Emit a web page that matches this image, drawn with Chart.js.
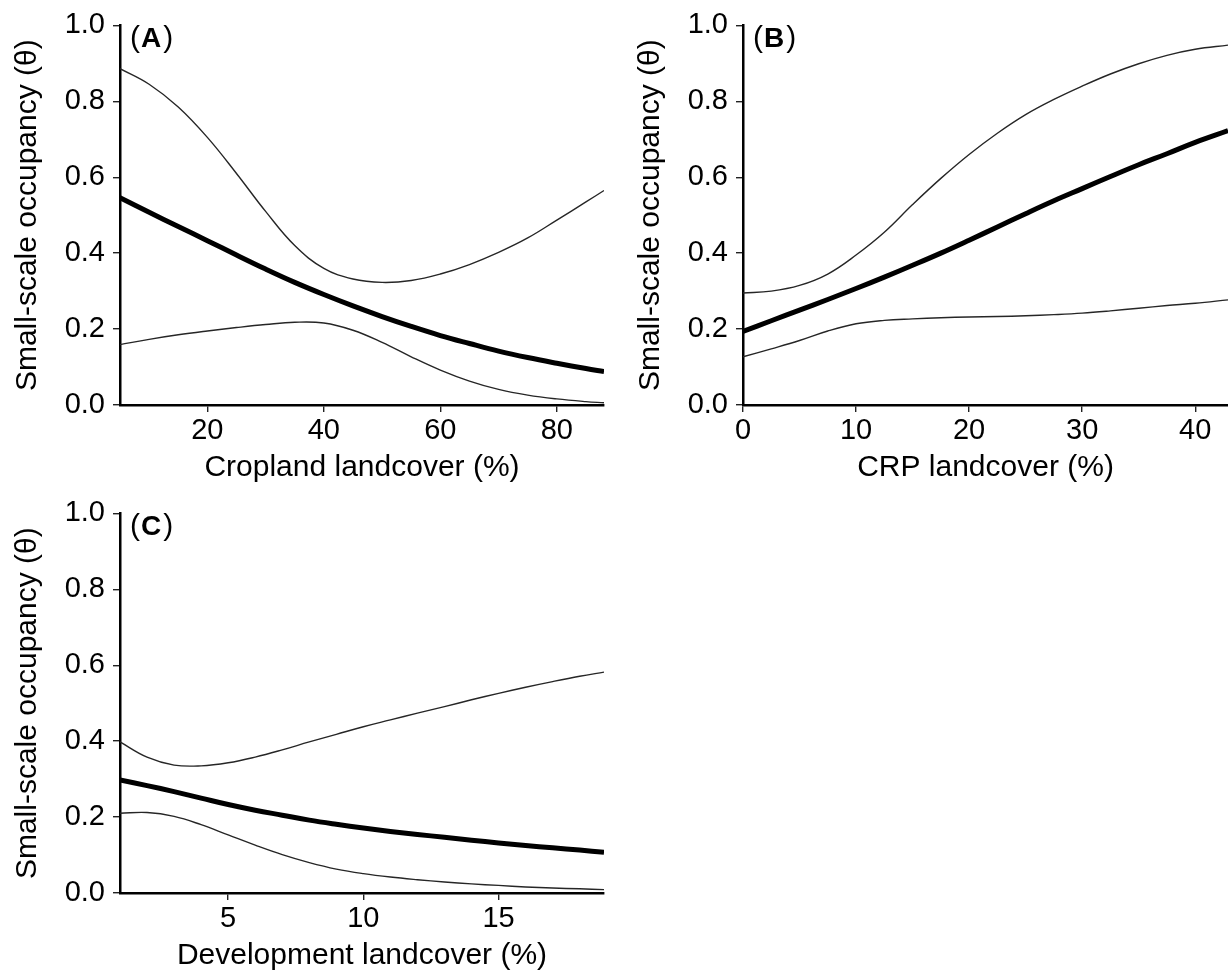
<!DOCTYPE html>
<html>
<head>
<meta charset="utf-8">
<script src="https://cdn.jsdelivr.net/npm/chart.js@4/dist/chart.umd.min.js"></script>
<style>
  html, body { margin: 0; padding: 0; background: #fff; overflow: hidden; width: 1228px; height: 971px; }
  .pane { position: absolute; }
</style>
</head>
<body>
<div class="pane" id="wa" style="left:0px;top:0px;width:614px;height:490px;"><canvas id="ca"></canvas></div>
<div class="pane" id="wb" style="left:623px;top:0px;width:605px;height:490px;"><canvas id="cb"></canvas></div>
<div class="pane" id="wc" style="left:0px;top:488px;width:614px;height:490px;"><canvas id="cc"></canvas></div>
<script>
// ---------- DATA ----------
// Panel A: Cropland landcover
const cropX     = [5, 10, 15, 20, 25, 30, 35, 40, 45, 50, 55, 60, 65, 70, 75, 80, 85, 88.1];
const cropMean  = [0.546, 0.508, 0.470, 0.433, 0.395, 0.358, 0.323, 0.291, 0.261, 0.233, 0.207, 0.183, 0.162, 0.142, 0.125, 0.110, 0.096, 0.088];
const cropUpper = [0.886, 0.845, 0.785, 0.705, 0.610, 0.510, 0.420, 0.360, 0.332, 0.323, 0.328, 0.345, 0.370, 0.402, 0.440, 0.487, 0.535, 0.565];
const cropLower = [0.159, 0.173, 0.185, 0.195, 0.204, 0.212, 0.218, 0.216, 0.197, 0.165, 0.127, 0.092, 0.063, 0.041, 0.026, 0.016, 0.009, 0.006];
const cropTicks = [20, 40, 60, 80];

// Panel B: CRP landcover
const crpX     = [0, 2.5, 5, 7.5, 10, 12.5, 15, 17.5, 20, 22.5, 25, 27.5, 30, 32.5, 35, 37.5, 40, 42.9];
const crpMean  = [0.194, 0.222, 0.250, 0.278, 0.307, 0.337, 0.368, 0.400, 0.434, 0.469, 0.504, 0.538, 0.570, 0.602, 0.633, 0.662, 0.692, 0.723];
const crpUpper = [0.295, 0.300, 0.315, 0.345, 0.395, 0.455, 0.528, 0.597, 0.660, 0.716, 0.765, 0.805, 0.840, 0.872, 0.899, 0.921, 0.937, 0.948];
const crpLower = [0.127, 0.148, 0.170, 0.195, 0.214, 0.223, 0.227, 0.230, 0.232, 0.233, 0.235, 0.238, 0.242, 0.248, 0.255, 0.262, 0.268, 0.277];
const crpTicks = [0, 10, 20, 30, 40];

// Panel C: Development landcover
const devX     = [1, 2, 3, 4, 5, 6, 7, 8, 9, 10, 11, 12, 13, 14, 15, 16, 17, 18, 18.9];
const devMean  = [0.298, 0.283, 0.267, 0.250, 0.233, 0.218, 0.205, 0.192, 0.181, 0.171, 0.162, 0.154, 0.147, 0.139, 0.132, 0.125, 0.119, 0.113, 0.107];
const devUpper = [0.398, 0.358, 0.337, 0.335, 0.343, 0.358, 0.377, 0.398, 0.418, 0.438, 0.456, 0.474, 0.491, 0.509, 0.526, 0.542, 0.557, 0.571, 0.582];
const devLower = [0.210, 0.212, 0.202, 0.180, 0.153, 0.126, 0.101, 0.080, 0.063, 0.051, 0.042, 0.035, 0.029, 0.024, 0.020, 0.016, 0.013, 0.011, 0.009];
const devTicks = [5, 10, 15];

const yTicks = [0, 0.2, 0.4, 0.6, 0.8, 1.0];
const yTitle = 'Small-scale occupancy (\u03B8)';

// ---------- RENDER ----------
const FONT = '"Liberation Sans", Arial, Helvetica, sans-serif';

function pts(xs, ys) { return xs.map((x, i) => ({ x: x, y: ys[i] })); }

const panelLabel = {
  id: 'panelLabel',
  afterDraw(chart, args, opts) {
    const ctx = chart.ctx, ca = chart.chartArea;
    ctx.save();
    ctx.fillStyle = '#000';
    ctx.textBaseline = 'alphabetic';
    let x = ca.left + 10;
    const y = ca.top + 22;
    ctx.font = '30px ' + FONT;
    ctx.fillText('(', x, y);
    x += ctx.measureText('(').width + 1;
    ctx.font = 'bold 28px ' + FONT;
    ctx.fillText(opts.letter, x, y);
    x += ctx.measureText(opts.letter).width + 2;
    ctx.font = '30px ' + FONT;
    ctx.fillText(')', x, y);
    ctx.restore();
  }
};

function makeChart(id, xs, mean, upper, lower, xmin, xmax, xticks, xTitle, letter, padRight) {
  const line = (data, w, col) => ({
    data: pts(xs, data), borderColor: col, borderWidth: w, pointRadius: 0,
    fill: false, tension: 0.4
  });
  return new Chart(document.getElementById(id), {
    type: 'line',
    data: {
      datasets: [
        line(upper, 1.4, '#262626'),
        line(lower, 1.4, '#262626'),
        line(mean, 5, '#000')
      ]
    },
    options: {
      responsive: true,
      maintainAspectRatio: false,
      animation: false,
      events: [],
      layout: { padding: { top: 25, right: padRight, left: 0, bottom: 0 } },
      plugins: { legend: { display: false }, tooltip: { enabled: false }, panelLabel: { letter: letter } },
      scales: {
        x: {
          type: 'linear', min: xmin, max: xmax,
          afterBuildTicks: s => { s.ticks = xticks.map(v => ({ value: v })); },
          afterFit: s => { s.height = 85; },
          border: { display: true, color: '#000', width: 2.5 },
          grid: { display: true, drawOnChartArea: false, drawTicks: true, tickLength: 7, color: '#222', lineWidth: 1.4 },
          ticks: { color: '#000', font: { family: FONT, size: 29 }, padding: 2, autoSkip: false, maxRotation: 0 },
          title: { display: true, text: xTitle, color: '#000', font: { family: FONT, size: 30 }, padding: { top: 0, bottom: 4 } }
        },
        y: {
          type: 'linear', min: 0, max: 1,
          afterBuildTicks: s => { s.ticks = yTicks.map(v => ({ value: v })); },
          afterFit: s => { s.width = 120; },
          border: { display: true, color: '#000', width: 2.5 },
          grid: { display: true, drawOnChartArea: false, drawTicks: true, tickLength: 7, color: '#222', lineWidth: 1.4 },
          ticks: { color: '#000', font: { family: FONT, size: 29 }, padding: 8, callback: v => Number(v).toFixed(1) },
          title: { display: true, text: yTitle, color: '#000', font: { family: FONT, size: 30 }, padding: { top: 10, bottom: 0 } }
        }
      }
    },
    plugins: [panelLabel]
  });
}

makeChart('ca', cropX, cropMean, cropUpper, cropLower, 5, 88.1, cropTicks, 'Cropland landcover (%)', 'A', 10);
makeChart('cb', crpX, crpMean, crpUpper, crpLower, 0, 42.9, crpTicks, 'CRP landcover (%)', 'B', 0);
makeChart('cc', devX, devMean, devUpper, devLower, 1, 18.9, devTicks, 'Development landcover (%)', 'C', 10);
</script>
</body>
</html>
